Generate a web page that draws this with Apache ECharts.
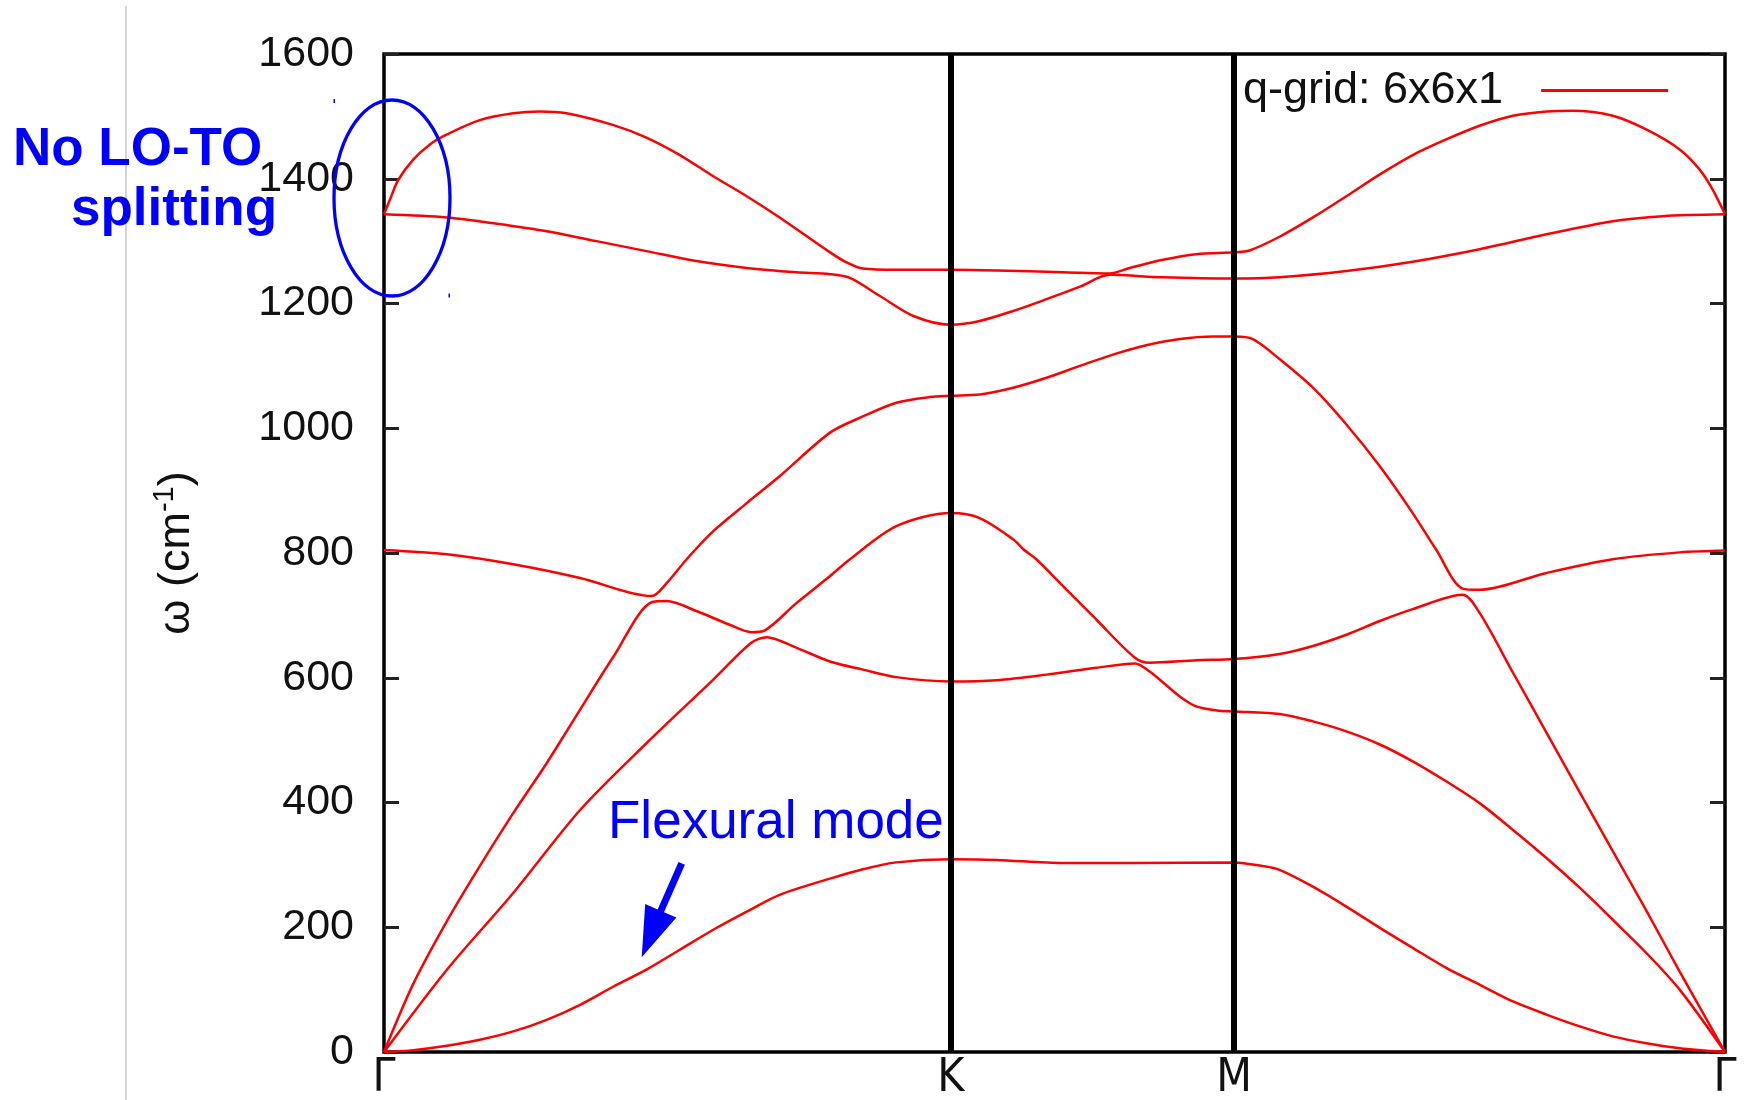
<!DOCTYPE html>
<html>
<head>
<meta charset="utf-8">
<title>Phonon dispersion</title>
<script src="https://cdn.jsdelivr.net/npm/echarts@6/dist/echarts.min.js"></script>
<style>
  html, body { margin: 0; padding: 0; background: #fff; }
  #chart { width: 1744px; height: 1100px; }
</style>
</head>
<body>
<div id="chart"></div>
<script>
// High-symmetry points along the path (reciprocal distance) and their labels
const qPath = [0, 1, 1.5, 2.366];
const qLabels = ['Γ', 'K', 'M', 'Γ'];

const legendName = 'q-grid: 6x6x1';

// Phonon branches, sorted by energy, as [q, ω (cm^-1)]
const band1 = [[0,0],[0.052,3],[0.111,10],[0.169,19.6],[0.228,33],[0.287,51.6],[0.346,75.7],[0.405,105],[0.463,132],[0.522,164],[0.581,196],[0.640,225],[0.698,252],[0.787,278],[0.845,293],[0.904,304],[1,309],[1.081,308],[1.198,303],[1.316,303],[1.5,304],[1.551,298],[1.580,292],[1.639,265],[1.698,233],[1.757,199],[1.815,167],[1.874,135],[1.933,108],[1.992,81],[2.051,60],[2.110,41],[2.168,25],[2.227,14],[2.286,6],[2.366,0]];

const band2 = [[0,0],[0.111,132],[0.228,255],[0.346,388],[0.463,495],[0.581,597],[0.648,656],[0.675,665],[0.728,648],[0.787,626],[0.845,613],[0.904,601],[1,594],[1.081,596],[1.169,605],[1.257,616],[1.325,623],[1.351,610],[1.375,592],[1.404,570],[1.433,554],[1.474,547],[1.5,546],[1.580,542],[1.639,530],[1.698,514],[1.757,493],[1.815,466],[1.874,434],[1.933,399],[1.992,356],[2.051,311],[2.110,263],[2.168,212],[2.227,159],[2.286,100],[2.366,0]];

const band3 = [[0,0],[0.052,110],[0.111,210],[0.169,298],[0.228,383],[0.287,463],[0.346,549],[0.405,634],[0.472,721],[0.499,723],[0.551,707],[0.610,685],[0.648,673],[0.672,676],[0.728,720],[0.787,763],[0.822,790],[0.904,843],[1,864],[1.051,856],[1.110,822],[1.128,806],[1.151,790],[1.198,747],[1.257,693],[1.325,632],[1.351,624],[1.433,628],[1.5,630],[1.580,638],[1.639,651],[1.698,669],[1.757,691],[1.815,710],[1.903,733],[1.933,704],[1.992,608],[2.051,512],[2.110,416],[2.168,322],[2.227,227],[2.286,129],[2.366,0]];

const band4 = [[0,805],[0.111,798],[0.228,782],[0.346,760],[0.472,731],[0.499,752],[0.534,790],[0.581,835],[0.640,880],[0.698,923],[0.787,993],[0.845,1019],[0.904,1041],[0.963,1050],[1,1052],[1.051,1054],[1.110,1065],[1.169,1081],[1.228,1100],[1.286,1118],[1.345,1133],[1.404,1143],[1.463,1147],[1.5,1147],[1.533,1143],[1.580,1111],[1.639,1065],[1.698,1006],[1.757,939],[1.815,864],[1.856,806],[1.903,743],[1.933,741],[2.051,768],[2.168,790],[2.286,801],[2.366,804]];

const band5 = [[0,1343],[0.111,1338],[0.199,1328],[0.287,1316],[0.375,1300],[0.463,1284],[0.551,1268],[0.640,1257],[0.728,1250],[0.787,1247],[0.822,1241],[0.875,1212],[0.934,1180],[1,1166],[1.051,1172],[1.110,1188],[1.169,1207],[1.228,1227],[1.280,1246],[1.374,1242],[1.5,1240],[1.580,1242],[1.698,1252],[1.815,1267],[1.933,1287],[2.051,1311],[2.168,1332],[2.256,1340],[2.366,1343]];

const band6 = [[0,1343],[0.012,1370],[0.025,1398],[0.052,1431],[0.081,1455],[0.111,1471],[0.169,1494],[0.228,1505],[0.275,1508],[0.322,1505],[0.405,1486],[0.463,1466],[0.522,1438],[0.581,1404],[0.640,1372],[0.698,1338],[0.787,1282],[0.816,1266],[0.845,1256],[0.904,1254],[1,1254],[1.081,1253],[1.198,1250],[1.280,1248],[1.316,1257],[1.374,1270],[1.433,1279],[1.5,1282],[1.527,1285],[1.580,1307],[1.639,1338],[1.698,1372],[1.757,1407],[1.815,1438],[1.874,1463],[1.933,1485],[1.992,1501],[2.051,1508],[2.098,1509],[2.168,1501],[2.227,1479],[2.286,1447],[2.321,1415],[2.344,1383],[2.366,1343]];

const bands = [band1, band2, band3, band4, band5, band6];

const chart = echarts.init(document.getElementById('chart'), null, { renderer: 'canvas' });

const bandSeries = bands.map(function (b) {
  return {
    name: legendName,
    type: 'line',
    data: b,
    showSymbol: false,
    symbol: 'none',
    smooth: 0.3,
    z: 3,
    color: '#ff0000',
    lineStyle: { color: '#ff0000', width: 2.5 },
    silent: true
  };
});

// Thick separators at the interior high-symmetry points, drawn beneath the bands
const separatorSeries = {
  name: 'separators',
  type: 'line',
  data: [],
  z: 1,
  markLine: {
    silent: true,
    symbol: ['none', 'none'],
    label: { show: false },
    lineStyle: { color: '#000', width: 6, type: 'solid' },
    data: qPath.slice(1, -1).map(function (q) { return { xAxis: q }; })
  }
};

function labelFor(v) {
  let best = 0;
  for (let i = 1; i < qPath.length; i++) {
    if (Math.abs(qPath[i] - v) < Math.abs(qPath[best] - v)) best = i;
  }
  return qLabels[best];
}

const tickFont = 'Liberation Sans, Arial, sans-serif';

chart.setOption({
  animation: false,
  backgroundColor: '#fff',
  grid: {
    left: 384, right: 19, top: 54, bottom: 48,
    outerBoundsMode: 'none',
    containLabel: false,
    show: true, borderColor: '#000', borderWidth: 3.5, backgroundColor: 'transparent'
  },
  legend: {
    data: [legendName],
    left: 1238,
    top: 63,
    align: 'right',
    icon: 'rect',
    itemWidth: 127,
    itemHeight: 3,
    selectedMode: false,
    textStyle: { fontSize: 45, color: '#111', fontFamily: tickFont, padding: [0, 33, 0, 0] }
  },
  xAxis: {
    type: 'value',
    min: qPath[0],
    max: qPath[qPath.length - 1],
    axisLine: { show: false },
    axisTick: { show: false },
    splitLine: { show: false },
    axisLabel: {
      customValues: qPath,
      formatter: labelFor,
      margin: 4,
      fontSize: 46,
      lineHeight: 46,
      color: '#111',
      fontFamily: 'Liberation Sans Narrow, DejaVu Sans Condensed, Liberation Sans, sans-serif'
    }
  },
  yAxis: [{
    type: 'value',
    min: 0, max: 1600, interval: 200,
    position: 'left',
    name: '{a|ω (cm}{s|-1}{a|)}',
    nameLocation: 'middle',
    nameRotate: 90,
    nameGap: 185,
    nameTextStyle: {
      rich: {
        a: { fontSize: 45, color: '#111', fontFamily: tickFont, verticalAlign: 'bottom' },
        s: { fontSize: 29, color: '#111', fontFamily: tickFont, verticalAlign: 'bottom', padding: [0, 0, 20, 0] }
      }
    },
    axisLine: { show: false },
    axisTick: { show: true, inside: true, length: 15, lineStyle: { color: '#222', width: 3 } },
    splitLine: { show: false },
    axisLabel: {
      margin: 30, fontSize: 43, color: '#111', fontFamily: tickFont,
      formatter: function (v) { return String(v); }
    }
  }, {
    type: 'value',
    min: 0, max: 1600, interval: 200,
    position: 'right',
    axisLine: { show: false },
    axisTick: { show: true, inside: true, length: 15, lineStyle: { color: '#222', width: 3 } },
    splitLine: { show: false },
    axisLabel: { show: false }
  }],
  series: [separatorSeries].concat(bandSeries),
  graphic: [
    // thin page rule on the left
    { type: 'line', shape: { x1: 126, y1: 6, x2: 126, y2: 1100 }, style: { stroke: '#d4d4d4', lineWidth: 2 }, silent: true },
    // ellipse marking the Γ-point optical modes
    { type: 'ellipse', shape: { cx: 392, cy: 198, rx: 58, ry: 98 }, style: { fill: null, stroke: '#0000ff', lineWidth: 3.3 }, z: 10, silent: true },
    { type: 'rect', shape: { x: 333.5, y: 99, width: 1.5, height: 4 }, style: { fill: '#0000ff' }, z: 10, silent: true },
    { type: 'rect', shape: { x: 448.5, y: 293.5, width: 1.5, height: 4 }, style: { fill: '#0000ff' }, z: 10, silent: true },
    { type: 'text', z: 10, silent: true, style: { text: 'No LO-TO', x: 13, y: 150, fill: '#0000ff', font: 'bold 53px "Liberation Sans", Arial, sans-serif', textAlign: 'left', textVerticalAlign: 'middle' } },
    { type: 'text', z: 10, silent: true, style: { text: 'splitting', x: 71, y: 210, fill: '#0000ff', font: 'bold 53px "Liberation Sans", Arial, sans-serif', textAlign: 'left', textVerticalAlign: 'middle' } },
    { type: 'text', z: 10, silent: true, style: { text: 'Flexural mode', x: 608, y: 823, fill: '#0000ff', font: '53px "Liberation Sans", Arial, sans-serif', textAlign: 'left', textVerticalAlign: 'middle' } },
    // arrow pointing at the flexural (ZA) branch
    { type: 'polygon', z: 10, silent: true,
      shape: { points: [[678.5, 861.9], [684.9, 864.7], [664.0, 912.2], [676.4, 917.5], [641.7, 957.3], [645.2, 904.1], [657.6, 909.4]] },
      style: { fill: '#0000ff' } }
  ]
});
</script>
</body>
</html>
